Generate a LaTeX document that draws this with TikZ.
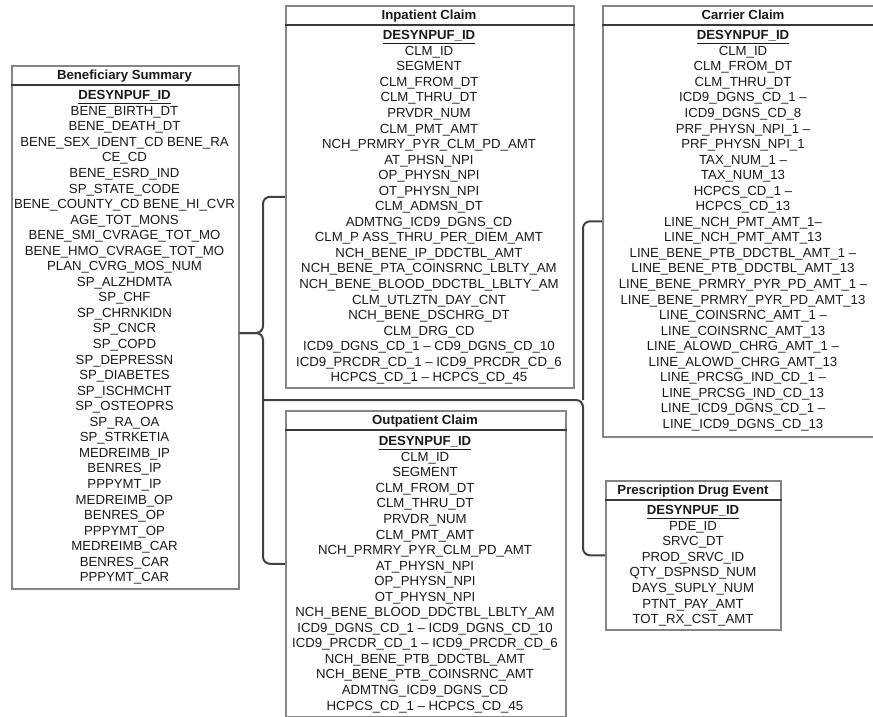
\documentclass[tikz,border=0pt]{standalone}
\usepackage{fontspec}
\setmainfont{Liberation Sans}
\definecolor{connc}{HTML}{4A3C44}
\definecolor{boxc}{HTML}{858585}
\definecolor{hdrc}{HTML}{3A3A3A}
\definecolor{txtc}{HTML}{1A1A1A}
\tikzset{
  conn/.style={draw=connc, line width=2pt, rounded corners=7pt},
  tbox/.style={draw=boxc, line width=1.6pt, fill=white, inner sep=0pt, anchor=north west},
  hdrline/.style={draw=hdrc, line width=1.6pt},
  ttl/.style={font=\fontsize{13.2}{15}\selectfont\bfseries, text=txtc, anchor=base, inner sep=0pt},
  rowtext/.style={font=\fontsize{13.2}{15}\selectfont, text=txtc, anchor=base, inner sep=0pt},
  keytext/.style={font=\fontsize{13.2}{15}\selectfont\bfseries, text=txtc, anchor=base, inner sep=0pt},
}
% #1 prefix, #2 x centre, #3 title centre y, #4 first row centre y, #5 title, #6 rows
\newcommand\tablerows[6]{%
  \node[ttl] (#1-title) at ({#2},{#3+4.7}) {#5};
  \node[keytext] (#1-key) at ({#2},{#4+4.7}) {\underline{DESYNPUF\_ID}};
  \foreach \t [count=\i from 1] in {#6} {
    \node[rowtext] (#1-r\i) at ({#2},{#4+4.7+15.55*\i}) {\t};
  }%
}
\begin{document}
\begin{tikzpicture}[x=1pt,y=-1pt]
\useasboundingbox (0,0) rectangle (873,717);
\clip (0,0) rectangle (873,717);

% boxes
\node[tbox, minimum width=227pt, minimum height=523pt] (ben) at (11,65) {};
\node[tbox, minimum width=288pt, minimum height=382pt] (inp) at (285,5) {};
\node[tbox, minimum width=280pt, minimum height=306pt] (outp) at (285,410) {};
\node[tbox, minimum width=282pt, minimum height=431pt] (car) at (602,5) {};
\node[tbox, minimum width=175pt, minimum height=149pt] (pde) at (605,480) {};

% header separators
\draw[hdrline] (ben.west |- 0,85) -- (ben.east |- 0,85);
\draw[hdrline] (inp.west |- 0,25) -- (inp.east |- 0,25);
\draw[hdrline] (outp.west |- 0,430) -- (outp.east |- 0,430);
\draw[hdrline] (car.west |- 0,25) -- (car.east |- 0,25);
\draw[hdrline] (pde.west |- 0,500) -- (pde.east |- 0,500);

% texts
\tablerows{ben}{124.5}{75}{95}{Beneficiary Summary}{BENE\_BIRTH\_DT, BENE\_DEATH\_DT, BENE\_SEX\_IDENT\_CD BENE\_RA, CE\_CD, BENE\_ESRD\_IND, SP\_STATE\_CODE, BENE\_COUNTY\_CD BENE\_HI\_CVR, AGE\_TOT\_MONS, BENE\_SMI\_CVRAGE\_TOT\_MO, BENE\_HMO\_CVRAGE\_TOT\_MO, PLAN\_CVRG\_MOS\_NUM, SP\_ALZHDMTA, SP\_CHF, SP\_CHRNKIDN, SP\_CNCR, SP\_COPD, SP\_DEPRESSN, SP\_DIABETES, SP\_ISCHMCHT, SP\_OSTEOPRS, SP\_RA\_OA, SP\_STRKETIA, MEDREIMB\_IP, BENRES\_IP, PPPYMT\_IP, MEDREIMB\_OP, BENRES\_OP, PPPYMT\_OP, MEDREIMB\_CAR, BENRES\_CAR, PPPYMT\_CAR}

\tablerows{inp}{429}{15}{35}{Inpatient Claim}{CLM\_ID, SEGMENT, CLM\_FROM\_DT, CLM\_THRU\_DT, PRVDR\_NUM, CLM\_PMT\_AMT, NCH\_PRMRY\_PYR\_CLM\_PD\_AMT, AT\_PHSN\_NPI, OP\_PHYSN\_NPI, OT\_PHYSN\_NPI, CLM\_ADMSN\_DT, ADMTNG\_ICD9\_DGNS\_CD, CLM\_P ASS\_THRU\_PER\_DIEM\_AMT, NCH\_BENE\_IP\_DDCTBL\_AMT, NCH\_BENE\_PTA\_COINSRNC\_LBLTY\_AM, NCH\_BENE\_BLOOD\_DDCTBL\_LBLTY\_AM, CLM\_UTLZTN\_DAY\_CNT, NCH\_BENE\_DSCHRG\_DT, CLM\_DRG\_CD, ICD9\_DGNS\_CD\_1 – CD9\_DGNS\_CD\_10, ICD9\_PRCDR\_CD\_1 – ICD9\_PRCDR\_CD\_6, HCPCS\_CD\_1 – HCPCS\_CD\_45}

\tablerows{outp}{425}{420}{441}{Outpatient Claim}{CLM\_ID, SEGMENT, CLM\_FROM\_DT, CLM\_THRU\_DT, PRVDR\_NUM, CLM\_PMT\_AMT, NCH\_PRMRY\_PYR\_CLM\_PD\_AMT, AT\_PHYSN\_NPI, OP\_PHYSN\_NPI, OT\_PHYSN\_NPI, NCH\_BENE\_BLOOD\_DDCTBL\_LBLTY\_AM, ICD9\_DGNS\_CD\_1 – ICD9\_DGNS\_CD\_10, ICD9\_PRCDR\_CD\_1 – ICD9\_PRCDR\_CD\_6, NCH\_BENE\_PTB\_DDCTBL\_AMT, NCH\_BENE\_PTB\_COINSRNC\_AMT, ADMTNG\_ICD9\_DGNS\_CD, HCPCS\_CD\_1 – HCPCS\_CD\_45}

\tablerows{car}{743}{15}{35}{Carrier Claim}{CLM\_ID, CLM\_FROM\_DT, CLM\_THRU\_DT, ICD9\_DGNS\_CD\_1 –, ICD9\_DGNS\_CD\_8, PRF\_PHYSN\_NPI\_1 –, PRF\_PHYSN\_NPI\_1, TAX\_NUM\_1 –, TAX\_NUM\_13, HCPCS\_CD\_1 –, HCPCS\_CD\_13, LINE\_NCH\_PMT\_AMT\_1–, LINE\_NCH\_PMT\_AMT\_13, LINE\_BENE\_PTB\_DDCTBL\_AMT\_1 –, LINE\_BENE\_PTB\_DDCTBL\_AMT\_13, LINE\_BENE\_PRMRY\_PYR\_PD\_AMT\_1 –, LINE\_BENE\_PRMRY\_PYR\_PD\_AMT\_13, LINE\_COINSRNC\_AMT\_1 –, LINE\_COINSRNC\_AMT\_13, LINE\_ALOWD\_CHRG\_AMT\_1 –, LINE\_ALOWD\_CHRG\_AMT\_13, LINE\_PRCSG\_IND\_CD\_1 –, LINE\_PRCSG\_IND\_CD\_13, LINE\_ICD9\_DGNS\_CD\_1 –, LINE\_ICD9\_DGNS\_CD\_13}

\tablerows{pde}{693}{490}{510}{Prescription Drug Event}{PDE\_ID, SRVC\_DT, PROD\_SRVC\_ID, QTY\_DSPNSD\_NUM, DAYS\_SUPLY\_NUM, PTNT\_PAY\_AMT, TOT\_RX\_CST\_AMT}

% connectors
\coordinate (bj) at (263,333);
\coordinate (bus) at (263,400);
\coordinate (cj) at (583,400);
\draw[conn] (inp.west) -| (bj) -- (ben.east |- bj);
\draw[conn] (outp.west) -| (bj) -- (ben.east |- bj);
\draw[conn] (bus) -| ([xshift=-22pt]pde.west) -- (pde.west);
\draw[conn] (car.west) -| (cj);
\end{tikzpicture}
\end{document}
